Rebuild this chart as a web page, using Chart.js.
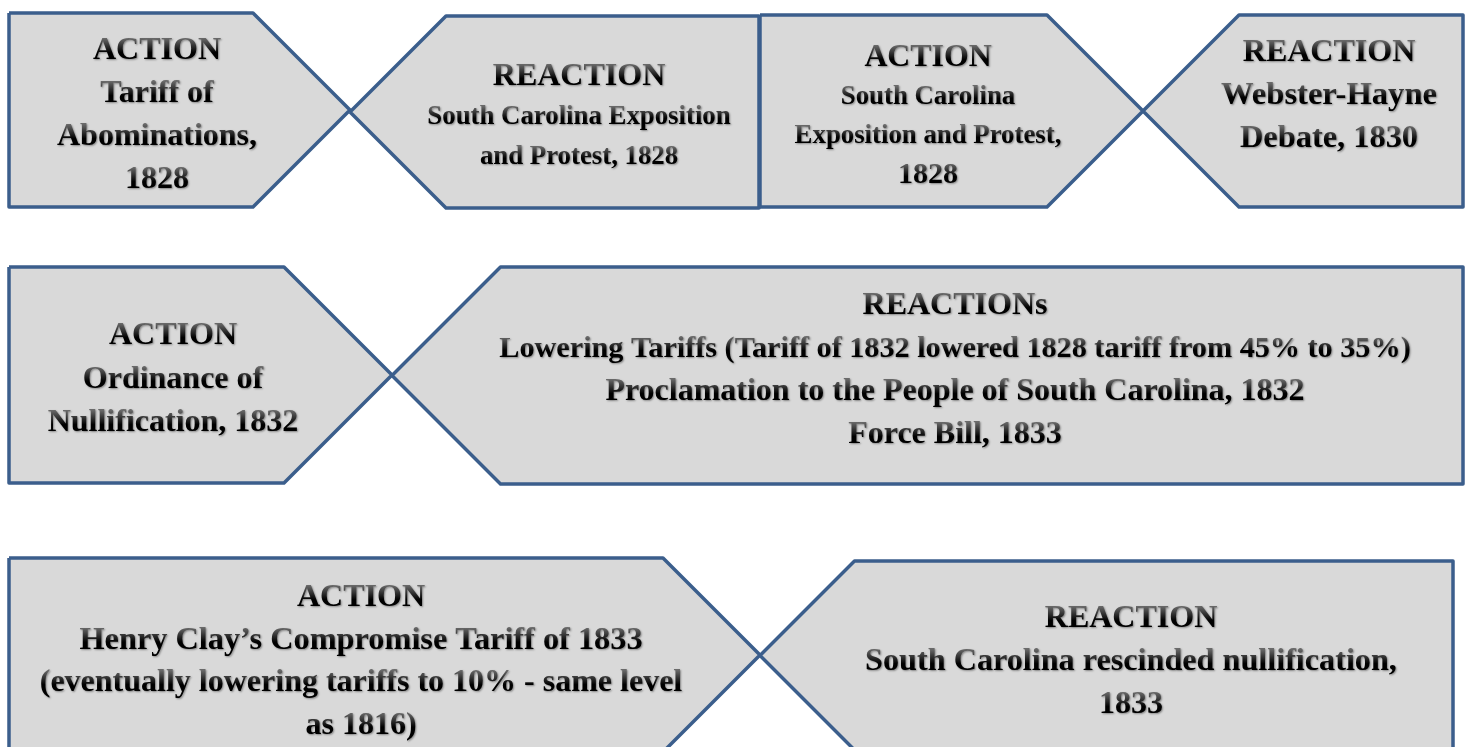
<!DOCTYPE html>
<html>
<head>
<meta charset="utf-8">
<script src="https://cdn.jsdelivr.net/npm/chart.js@4.4.1/dist/chart.umd.min.js"></script>
<style>
  html, body { margin: 0; padding: 0; background: #fff; }
  canvas { display: block; }
</style>
</head>
<body>
<canvas id="flow" width="1470" height="747"></canvas>
<script>
// what each box says, in reading order
const kinds = ["ACTION", "REACTION", "ACTION", "REACTION", "ACTION", "REACTIONs", "ACTION", "REACTION"];
const events = [
    ["Tariff of", "Abominations,", "1828"],
    ["South Carolina Exposition", "and Protest, 1828"],
    ["South Carolina", "Exposition and Protest,", "1828"],
    ["Webster-Hayne", "Debate, 1830"],
    ["Ordinance of", "Nullification, 1832"],
    ["Lowering Tariffs (Tariff of 1832 lowered 1828 tariff from 45% to 35%)",
     "Proclamation to the People of South Carolina, 1832",
     "Force Bill, 1833"],
    ["Henry Clay\u2019s Compromise Tariff of 1833",
     "(eventually lowering tariffs to 10% - same level",
     "as 1816)"],
    ["South Carolina rescinded nullification,", "1833"],
];

// layout of the boxes (pixels of the 1470 x 747 page)
const boxLeft   = [9, 350, 760, 1143, 9, 392, 9, 760];
const boxRight  = [350, 759, 1143, 1463, 392, 1463, 760, 1453];
const boxTop    = [13, 16, 15, 15, 267, 267, 558, 561];
const boxBottom = [207, 208, 207, 207, 483, 484, 752, 750];
const textX     = [157, 579, 928, 1329, 173, 955, 361, 1131];
const textY     = [48, 74, 55, 50, 333, 303, 595, 616];
const lineGap   = [43, 40, 39, 43, 43.5, 43, 42.5, 43];
// font size per line, title first
const lineSize  = [
    [32, 32, 32, 32],
    [32, 26.8, 26.8],
    [31.8, 26.8, 26.8, 30],
    [32, 32.6, 32.4],
    [32, 32, 32],
    [32, 30.2, 32, 32],
    [32, 32.3, 32, 32],
    [32, 32.2, 32],
];
const baselineShift = 3;

const strokeBlue = "#3b5e8c";
const boxGrey = "#d9d9d9";

// ACTION boxes point right, REACTION boxes have a notch on the left (45 degree sides)
function outline(i) {
    const l = boxLeft[i], r = boxRight[i], t = boxTop[i], b = boxBottom[i];
    const h = (b - t) / 2, m = (t + b) / 2;
    if (kinds[i].startsWith("REACTION")) {
        return [{x: l, y: m}, {x: l + h, y: t}, {x: r, y: t}, {x: r, y: b}, {x: l + h, y: b}, {x: l, y: m}];
    }
    return [{x: l, y: t}, {x: r - h, y: t}, {x: r, y: m}, {x: r - h, y: b}, {x: l, y: b}, {x: l, y: t}];
}

const boxFill = {
    id: "boxFill",
    beforeDatasetsDraw(chart) {
        const ctx = chart.ctx;
        ctx.save();
        chart.data.datasets.forEach((ds, i) => {
            const pts = chart.getDatasetMeta(i).data;
            ctx.beginPath();
            pts.forEach((p, j) => j ? ctx.lineTo(p.x, p.y) : ctx.moveTo(p.x, p.y));
            ctx.closePath();
            ctx.fillStyle = ds.backgroundColor;
            ctx.fill();
        });
        ctx.restore();
    }
};

const boxText = {
    id: "boxText",
    afterDatasetsDraw(chart) {
        const ctx = chart.ctx;
        const xs = chart.scales.x, ys = chart.scales.y;
        ctx.save();
        ctx.textAlign = "center";
        ctx.textBaseline = "middle";
        kinds.forEach((kind, i) => {
            const lines = [kind].concat(events[i]);
            lines.forEach((txt, k) => {
                const size = lineSize[i][k];
                const x = xs.getPixelForValue(textX[i]);
                const y = ys.getPixelForValue(textY[i] + k * lineGap[i] + baselineShift);
                const grad = ctx.createLinearGradient(0, y - size * 0.4, 0, y + size * 0.05);
                grad.addColorStop(0, "#6a6a6a");
                grad.addColorStop(1, "#000000");
                ctx.font = "bold " + size + "px 'Liberation Serif', 'Times New Roman', serif";
                ctx.shadowColor = "rgba(0,0,0,0.4)";
                ctx.shadowOffsetX = 1;
                ctx.shadowOffsetY = 1;
                ctx.shadowBlur = 2;
                ctx.fillStyle = grad;
                ctx.fillText(txt, x, y);
            });
        });
        ctx.restore();
    }
};

const datasets = kinds.map((k, i) => ({
    label: k,
    data: outline(i),
    showLine: true,
    fill: false,
    borderColor: strokeBlue,
    backgroundColor: boxGrey,
    borderWidth: 3.5,
    borderJoinStyle: "round",
    pointRadius: 0,
    tension: 0,
}));

new Chart(document.getElementById("flow").getContext("2d"), {
    type: "scatter",
    data: { datasets: datasets },
    options: {
        responsive: false,
        animation: false,
        events: [],
        layout: { padding: 0 },
        scales: {
            x: { type: "linear", min: 0, max: 1470, display: false },
            y: { type: "linear", min: 0, max: 747, reverse: true, display: false },
        },
        plugins: {
            legend: { display: false },
            tooltip: { enabled: false },
        },
    },
    plugins: [boxFill, boxText],
});
</script>
</body>
</html>
